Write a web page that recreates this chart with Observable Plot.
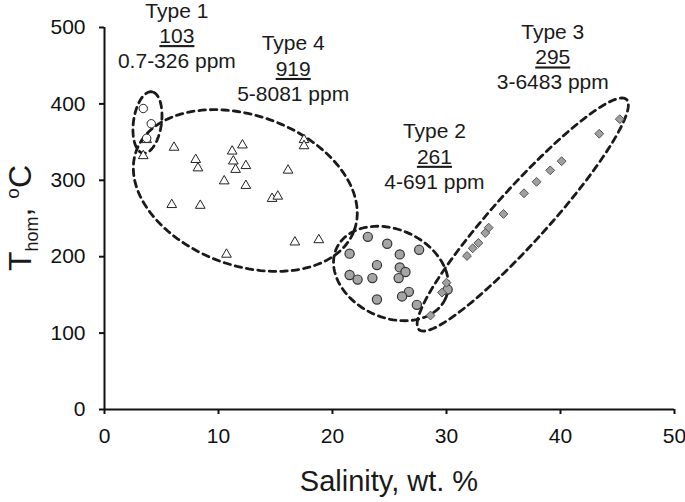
<!DOCTYPE html>
<html><head><meta charset="utf-8">
<script src="https://cdn.jsdelivr.net/npm/d3@7"></script>
<script src="https://cdn.jsdelivr.net/npm/@observablehq/plot@0.6"></script>
<style>body{margin:0;background:#fff}</style>
</head><body><div id="chart"></div>
<script>
// ---- data ----
const type1Salinity = [3.4, 4.1, 3.7];
const type1Thom     = [394, 374, 355];
const type4Salinity = [3.7, 3.4, 6.1, 8.0, 8.2, 5.9, 8.4, 11.2, 12.1, 11.3, 11.5, 12.4, 10.5, 12.4, 16.1, 17.5, 17.5, 14.7, 15.2, 16.7, 18.8, 10.7];
const type4Thom     = [353, 332, 343, 327, 316, 268, 267, 338, 346, 325, 314, 319, 299, 293, 313, 353, 345, 276, 279, 219, 222, 203];
const type2Salinity = [23.1, 24.8, 21.5, 25.9, 27.6, 23.9, 25.9, 26.4, 25.8, 21.5, 22.2, 23.5, 26.7, 26.1, 23.9, 27.4, 30.1];
const type2Thom     = [226, 217, 204, 203, 209, 189, 186, 180, 172, 176, 170, 172, 154, 148, 144, 137, 157];
const type3Salinity = [45.2, 43.4, 40.1, 39.1, 37.9, 36.8, 35.0, 33.7, 33.4, 32.8, 32.3, 31.8, 30.0, 29.6, 28.6];
const type3Thom     = [380, 361, 325, 313, 298, 283, 256, 238, 231, 218, 211, 201, 166, 153, 123];

const xTicks = [0, 10, 20, 30, 40, 50];
const yTicks = [0, 100, 200, 300, 400, 500];

const labelNames    = ["Type 1", "Type 4", "Type 2", "Type 3"];
const labelCounts   = ["103", "919", "261", "295"];
const labelRanges   = ["0.7-326 ppm", "5-8081 ppm", "4-691 ppm", "3-6483 ppm"];
const labelSalinity = [6.35, 16.55, 28.94, 39.32];
const labelThom     = [513, 470, 355, 485];

// grouping envelopes: centre (salinity, Thom), semi-axes in px, tilt in degrees
const envelopeType   = ["Type 1", "Type 4", "Type 2", "Type 3"];
const envelopeCx     = [3.77, 12.35, 25.13, 36.69];
const envelopeCy     = [375.7, 286.6, 178, 255.2];
const envelopeA      = [31, 116, 60, 155];
const envelopeB      = [14, 75, 44, 27];
const envelopeAngle  = [82, -20, -25, 48];

// ---- layout ----
const W = 685, H = 502, mL = 104, mR = 11, mT = 27, mB = 93;
const kx = (W - mL - mR) / 50;   // px per salinity unit
const ky = (H - mT - mB) / 500;  // px per degree

const zip = (xs, ys) => xs.map((x, i) => ({x, y: ys[i]}));
const t1 = zip(type1Salinity, type1Thom);
const t4 = zip(type4Salinity, type4Thom);
const t2 = zip(type2Salinity, type2Thom);
const t3 = zip(type3Salinity, type3Thom);

const envPts = [];
envelopeType.forEach((t, i) => {
  const th = envelopeAngle[i] * Math.PI / 180;
  for (let d = 0; d < 360; d += 3) {
    const p = d * Math.PI / 180;
    const ex = envelopeA[i] * Math.cos(p), ey = envelopeB[i] * Math.sin(p);
    const rx = ex * Math.cos(th) - ey * Math.sin(th);
    const ry = ex * Math.sin(th) + ey * Math.cos(th);
    envPts.push({type: t, x: envelopeCx[i] + rx / kx, y: envelopeCy[i] + ry / ky});
  }
});

const labels = labelNames.map((n, i) => ({name: n, count: labelCounts[i], range: labelRanges[i], x: labelSalinity[i], y: labelThom[i]}));
const txt = {fontSize: 21, fill: "#1a1a1a", textAnchor: "middle", lineAnchor: "bottom"};

const chart = Plot.plot({
  width: W, height: H,
  marginLeft: mL, marginRight: mR, marginTop: mT, marginBottom: mB,
  style: {fontFamily: "'Liberation Sans', Arial, sans-serif", fontSize: "21px", color: "#111", background: "#fff"},
  x: {domain: [0, 50], label: null},
  y: {domain: [0, 500], label: null},
  marks: [
    Plot.axisX({ticks: xTicks, tickSize: 5, tickPadding: 14, strokeWidth: 2, fontSize: 21, label: null}),
    Plot.axisY({ticks: yTicks, tickSize: 5, tickPadding: 14, strokeWidth: 2, fontSize: 21, label: null}),
    Plot.ruleY([0], {strokeWidth: 2, stroke: "#111"}),
    Plot.ruleX([0], {strokeWidth: 2, stroke: "#111"}),
    Plot.line(envPts, {x: "x", y: "y", z: "type", curve: "linear-closed", stroke: "#1a1a1a", strokeWidth: 2.8, strokeDasharray: "6.5,5"}),
    Plot.dot(t4, {x: "x", y: "y", symbol: "triangle", r: 3.6, stroke: "#222", strokeWidth: 1, fill: "white"}),
    Plot.dot(t1, {x: "x", y: "y", symbol: "circle", r: 4.2, stroke: "#222", strokeWidth: 1, fill: "white"}),
    Plot.dot(t2, {x: "x", y: "y", symbol: "circle", r: 4.6, stroke: "#333", strokeWidth: 1.2, fill: "#a5a5a5"}),
    Plot.dot(t3, {x: "x", y: "y", symbol: "diamond2", r: 4.0, stroke: "#555", strokeWidth: 1, fill: "#a0a0a0"}),
    Plot.text(labels, {...txt, x: "x", y: "y", text: "name"}),
    Plot.text(labels, {...txt, x: "x", y: "y", text: "count", dy: 25.5}),
    Plot.text(labels, {...txt, x: "x", y: "y", text: "range", dy: 50.5})
  ]
});

const svg = d3.select(chart);
svg.selectAll("text").filter(function() { return labelCounts.includes(this.textContent); })
  .style("text-decoration", "underline").style("text-decoration-color", "#777");

// axis titles
svg.append("text")
  .attr("x", mL + (W - mL - mR) / 2).attr("y", 491)
  .attr("text-anchor", "middle").attr("font-size", 29).attr("fill", "#1a1a1a")
  .text("Salinity, wt. %");

const yl = svg.append("text")
  .attr("transform", `translate(31,${mT + (H - mT - mB) / 2}) rotate(-90)`)
  .attr("text-anchor", "middle").attr("font-size", 32).attr("fill", "#1a1a1a");
yl.append("tspan").text("T");
yl.append("tspan").attr("font-size", 18).attr("dy", 7).text("hom");
yl.append("tspan").attr("dy", -7).text(", ");
yl.append("tspan").attr("font-size", 19).attr("dy", -12).text("o");
yl.append("tspan").attr("dy", 12).text("C");

document.getElementById("chart").appendChild(chart);
</script>
</body></html>
